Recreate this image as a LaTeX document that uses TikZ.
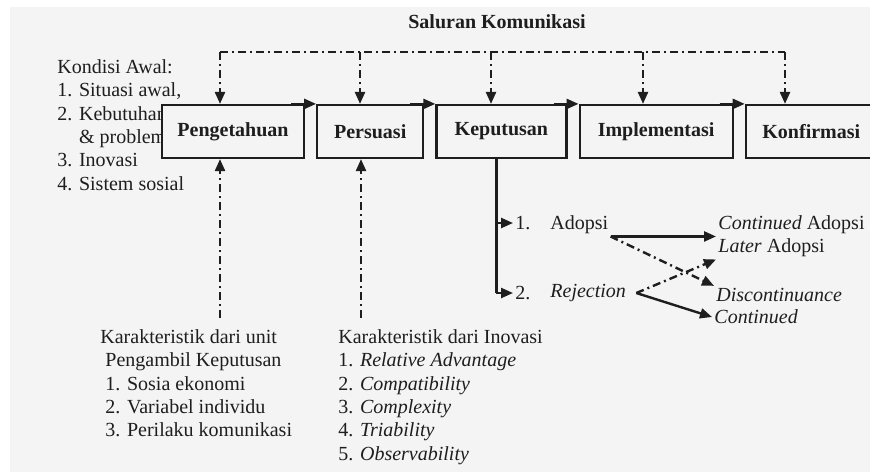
\documentclass[tikz,border=0pt]{standalone}
\usepackage{fontspec}
\setmainfont{Liberation Serif}
\usetikzlibrary{arrows.meta,positioning}
\definecolor{latar}{HTML}{F4F4F4}
\definecolor{tinta}{HTML}{1E1E1E}

\begin{document}
\begin{tikzpicture}[x=0.5pt,y=-0.5pt,node distance=5.5pt,color=tinta,
		tahap/.style={draw,line width=1.1pt,fill=latar,minimum height=26.5pt,inner sep=0pt,font=\bfseries},
		teks/.style={inner sep=1pt,anchor=west},
		daftar/.style={align=left,inner sep=0pt,anchor=north west,font=\fontsize{10}{11.7}\selectfont},
		arr/.style={line width=1.2pt,-{Triangle[length=6pt,width=5pt]}},
		saluran/.style={line width=1.2pt,dash pattern=on 4pt off 2pt on 1pt off 2pt}]
	\useasboundingbox (0,0) rectangle (870,472);
	\fill[latar] (10,7) rectangle (870,472);

	\node[font=\bfseries] (judul) at (497,22) {Saluran Komunikasi};
	\node[daftar] (awal) at (57,59) {Kondisi Awal:\\1. Situasi awal,\\2. Kebutuhan\\\phantom{2. }\& problem\\3. Inovasi\\4. Sistem sosial};

	% tahapan
	\node[tahap,minimum width=71pt] (pk) at (233,131.5) {Pengetahuan};
	\node[tahap,minimum width=53pt,right=of pk] (pr) {Persuasi};
	\node[tahap,minimum width=65pt,right=of pr] (kp) {Keputusan};
	\node[tahap,minimum width=76.5pt,right=of kp] (im) {Implementasi};
	\node[tahap,minimum width=65.5pt,right=of im] (kf) {Konfirmasi};
	\foreach \a/\b in {pk/pr,pr/kp,kp/im,im/kf}
		\draw[arr] ([xshift=-7pt]\a.north east) -- (\b.north west);

	% saluran komunikasi
	\coordinate (s1) at (220,52);
	\coordinate (s2) at (360,52);
	\coordinate (s3) at (491,52);
	\coordinate (s4) at (643,52);
	\coordinate (s5) at (785,52);
	\draw[saluran] (s1) -- (s5);
	\foreach \s/\t in {s1/pk,s2/pr,s3/kp,s4/im,s5/kf}
		\draw[saluran,arr] (\s) -- (\s |- \t.north);

	% karakteristik
	\node[daftar] (unit) at (100,329) {Karakteristik dari unit\\\hspace{2.5pt}Pengambil Keputusan\\\hspace{2.5pt}1. Sosia ekonomi\\\hspace{2.5pt}2. Variabel individu\\\hspace{2.5pt}3. Perilaku komunikasi};
	\node[daftar] (ino) at (338,329) {Karakteristik dari Inovasi\\1. \textit{Relative Advantage}\\2. \textit{Compatibility}\\3. \textit{Complexity}\\4. \textit{Triability}\\5. \textit{Observability}};
	\coordinate (u1) at (220,318);
	\coordinate (u2) at (361,318);
	\draw[saluran,arr] (u1) -- (u1 |- pk.south);
	\draw[saluran,arr] (u2) -- (u2 |- pr.south);

	% keputusan
	\node[teks] (n1) at (513,223) {1.};
	\node[teks] (n2) at (513,293) {2.};
	\node[teks] (ad) at (548,225) {Adopsi};
	\node[teks] (rj) at (548,293) {\textit{Rejection}};
	\node[teks] (ca) at (716,225) {\textit{Continued} Adopsi};
	\node[teks] (la) at (716,248) {\textit{Later} Adopsi};
	\node[teks] (dc) at (714,295) {\textit{Discontinuance}};
	\node[teks] (ct) at (712,317) {\textit{Continued}};
	\draw[line width=1.2pt] ([xshift=-2.5pt]kp.south) -- ++(0,134);
	\draw[arr] ([xshift=-2.5pt]kp.south |- n1) -- (n1.west);
	\draw[arr] ([xshift=-2.5pt]kp.south |- n2) -- (n2.west);
	\draw[arr] (ad.south east) -- (ca.south west);
	\draw[saluran,arr] (ad.south east) -- (dc.north west);
	\draw[saluran,arr] ([xshift=4pt]rj.east) -- (la.south west);
	\draw[arr] ([xshift=4pt]rj.east) -- (ct.west);
\end{tikzpicture}
\end{document}
